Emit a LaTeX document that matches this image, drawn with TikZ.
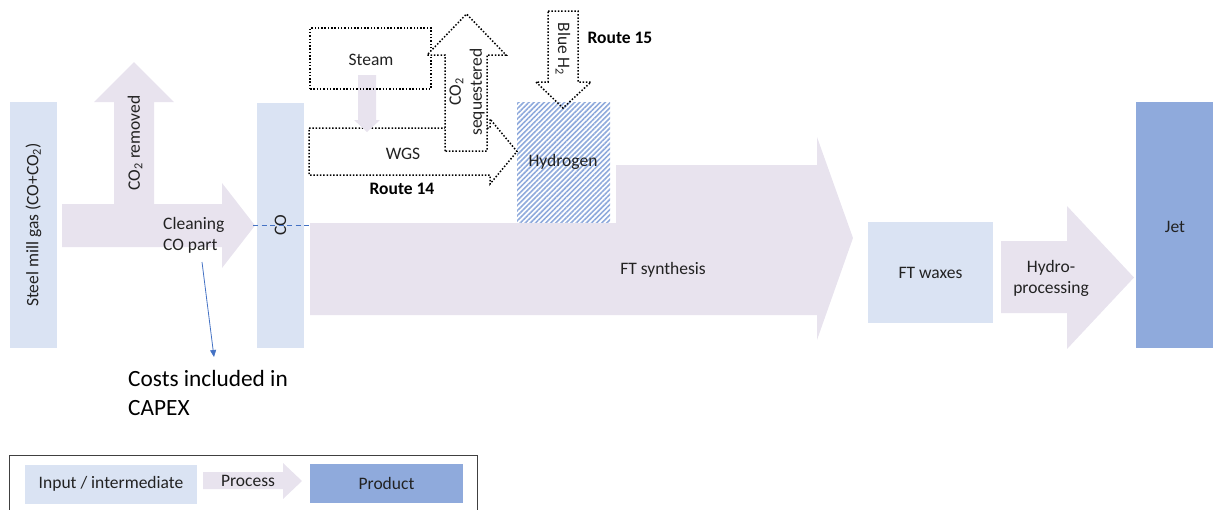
\documentclass[tikz,border=0pt]{standalone}
\usepackage{fontspec}
\setmainfont{Carlito}
\usetikzlibrary{patterns.meta,arrows.meta}
\definecolor{inblue}{HTML}{DAE3F3}
\definecolor{proc}{HTML}{E8E3EE}
\definecolor{prod}{HTML}{8FAADC}
\definecolor{txt}{HTML}{222222}
\definecolor{lineblue}{HTML}{4472C4}
\newcommand{\mfs}{\fontsize{17.5}{21}\selectfont}
\begin{document}
\begin{tikzpicture}[x=1pt,y=-1pt,
  every node/.style={text=txt, font=\mfs, inner sep=0pt},
  inbox/.style={fill=inblue},
  prodbox/.style={fill=prod},
  procfill/.style={fill=proc},
  dotline/.style={draw=black, line width=1.5pt, dash pattern=on 1.5pt off 1.8pt},
  hatchbox/.style={pattern={Lines[angle=45,distance=3.6pt,line width=1.6pt]}, pattern color=prod},
  routelbl/.style={font=\mfs\bfseries, text=black}
]
\useasboundingbox (0,0) rectangle (1213,509);

% ---- left input boxes
\node[inbox, rotate=90, minimum width=246, minimum height=47] (steel) at (33.5,225) {Steel mill gas (CO+CO\textsubscript{2})};

% ---- cleaning / CO2 removed arrow
\fill[procfill] (62,204) -- (114,204) -- (114,102) -- (94,102) -- (134,62) -- (174,102) -- (154,102) -- (154,204) -- (222,204) -- (222,183) -- (255,225.5) -- (222,268) -- (222,247) -- (62,247) -- cycle;
\node[rotate=90] (co2rem) at (135,143) {CO\textsubscript{2} removed};
\node[anchor=west, align=left] (clean) at (163,235) {Cleaning\\CO part};

% ---- CO box
\node[inbox, rotate=90, minimum width=245, minimum height=47] (co) at (280.5,225.5) {CO};

% ---- FT synthesis arrow
\fill[procfill] (310,223) -- (616,223) -- (616,165) -- (817,165) -- (817,137) -- (853,238) -- (817,340) -- (817,315) -- (310,315) -- cycle;
\node (ft) at (663,270) {FT synthesis};

% ---- dashed line through CO
\coordinate (d1) at (253,225);
\coordinate (d2) at (311,225);
\draw[lineblue, line width=1pt, dash pattern=on 5pt off 3.5pt] (d1) -- (d2);

% ---- WGS route 14
\draw[dotline, fill=white] (309,128) -- (490,128) -- (490,119) -- (517,151.5) -- (490,184) -- (490,175) -- (309,175) -- cycle;
\node (wgs) at (403,154) {WGS};
\fill[procfill] (358,75) -- (376,75) -- (376,120) -- (380,120) -- (367,132) -- (354,120) -- (358,120) -- cycle;
\node[dotline, minimum width=121, minimum height=61] (steam) at (370.5,58.5) {};
\node (steamtxt) at (371,60) {Steam};
\draw[dotline, fill=white] (445,151) -- (445,55) -- (427,55) -- (466.5,14) -- (506,55) -- (487,55) -- (487,151) -- cycle;
\node[rotate=90, align=center] (co2seq) at (467,92) {CO\textsubscript{2}\\sequestered};
\node[routelbl] (r14) at (402,189) {Route 14};

% ---- Hydrogen & route 15
\node[hatchbox, minimum width=93, minimum height=120] (h2) at (563.5,162) {};
\node (h2txt) at (563,162) {Hydrogen};
\draw[dotline] (548,11) -- (578,11) -- (578,82) -- (591,82) -- (563,108) -- (536,82) -- (548,82) -- cycle;
\node[rotate=-90] (blueh2) at (563,49) {Blue H\textsubscript{2}};
\node[routelbl] (r15) at (620,38) {Route 15};

% ---- right part
\node[inbox, minimum width=125, minimum height=101] (wax) at (930.5,272.5) {FT waxes};
\fill[procfill] (1001,241) -- (1067,241) -- (1067,206) -- (1134,277.5) -- (1067,349) -- (1067,313) -- (1001,313) -- cycle;
\node[align=center] (hydro) at (1051,278) {Hydro-\\processing};
\node[prodbox, minimum width=78, minimum height=246] (jet) at (1175,225) {};
\node (jettxt) at (1175,227) {Jet};

% ---- costs note
\node[anchor=west, align=left, font=\fontsize{23.3}{29}\selectfont, text=black] (costs) at (128,392.5) {Costs included in\\CAPEX};
\coordinate (cs) at (202,262);
\coordinate (ce) at (214,357);
\draw[lineblue, line width=0.8pt, -{Triangle[length=7pt,width=6pt]}] (cs) -- (ce);

% ---- legend
\node[draw={rgb,255:red,64;green,64;blue,64}, line width=1pt, minimum width=468, minimum height=70] (legend) at (243,490) {};
\node[inbox, minimum width=172, minimum height=39] (legin) at (111,484) {Input / intermediate};
\fill[procfill] (203,472) -- (283,472) -- (283,463) -- (302,481) -- (283,499) -- (283,489) -- (203,489) -- cycle;
\node (legproc) at (248,481) {Process};
\node[prodbox, minimum width=153, minimum height=39] (legprod) at (386.5,483.5) {Product};
\end{tikzpicture}
\end{document}
